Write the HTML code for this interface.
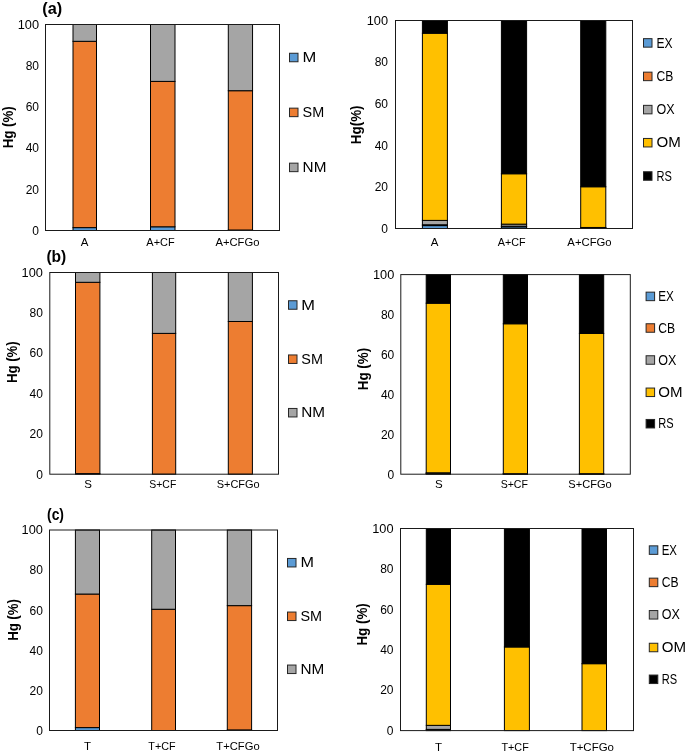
<!DOCTYPE html>
<html><head><meta charset="utf-8"><style>
html,body{margin:0;padding:0;background:#fff;}
body{width:685px;height:755px;overflow:hidden;}
svg{display:block;font-family:"Liberation Sans", sans-serif;filter:blur(0.4px);}
</style></head><body>
<svg width="685" height="755" viewBox="0 0 685 755">
<rect width="685" height="755" fill="#fff"/>
<rect x="73.00" y="227.62" width="23.50" height="2.88" fill="#5B9BD5" stroke="#000000" stroke-width="1"/>
<rect x="73.00" y="41.31" width="23.50" height="186.31" fill="#ED7D31" stroke="#000000" stroke-width="1"/>
<rect x="73.00" y="24.50" width="23.50" height="16.81" fill="#A5A5A5" stroke="#000000" stroke-width="1"/>
<rect x="150.50" y="226.79" width="24.50" height="3.71" fill="#5B9BD5" stroke="#000000" stroke-width="1"/>
<rect x="150.50" y="81.40" width="24.50" height="145.39" fill="#ED7D31" stroke="#000000" stroke-width="1"/>
<rect x="150.50" y="24.50" width="24.50" height="56.90" fill="#A5A5A5" stroke="#000000" stroke-width="1"/>
<rect x="228.30" y="229.99" width="24.25" height="0.51" fill="#5B9BD5" stroke="#000000" stroke-width="1"/>
<rect x="228.30" y="90.71" width="24.25" height="139.28" fill="#ED7D31" stroke="#000000" stroke-width="1"/>
<rect x="228.30" y="24.50" width="24.25" height="66.21" fill="#A5A5A5" stroke="#000000" stroke-width="1"/>
<rect x="45.50" y="24.50" width="234.00" height="206.00" fill="none" stroke="#1a1a1a" stroke-width="1"/>
<text x="39.00" y="234.80" font-size="12" text-anchor="end" fill="#000000">0</text>
<text x="39.00" y="193.60" font-size="12" text-anchor="end" fill="#000000">20</text>
<text x="39.00" y="152.40" font-size="12" text-anchor="end" fill="#000000">40</text>
<text x="39.00" y="111.20" font-size="12" text-anchor="end" fill="#000000">60</text>
<text x="39.00" y="70.00" font-size="12" text-anchor="end" fill="#000000">80</text>
<text x="39.00" y="28.80" font-size="12" text-anchor="end" fill="#000000" textLength="21.30" lengthAdjust="spacingAndGlyphs">100</text>
<text x="84.50" y="246.00" font-size="11.5" text-anchor="middle" fill="#000000">A</text>
<text x="160.50" y="246.00" font-size="11.5" text-anchor="middle" fill="#000000" textLength="28.30" lengthAdjust="spacingAndGlyphs">A+CF</text>
<text x="237.40" y="246.00" font-size="11.5" text-anchor="middle" fill="#000000" textLength="44.00" lengthAdjust="spacingAndGlyphs">A+CFGo</text>
<text x="12.90" y="127.30" font-size="14" text-anchor="middle" fill="#000000" font-weight="bold" textLength="42.00" lengthAdjust="spacingAndGlyphs" transform="rotate(-90 12.90 127.30)">Hg (%)</text>
<rect x="289.50" y="53.25" width="8.5" height="8.5" fill="#5B9BD5" stroke="#262626" stroke-width="1"/>
<text x="302.60" y="62.10" font-size="14.5" text-anchor="start" fill="#000000" textLength="13.80" lengthAdjust="spacingAndGlyphs">M</text>
<rect x="289.50" y="108.15" width="8.5" height="8.5" fill="#ED7D31" stroke="#262626" stroke-width="1"/>
<text x="302.60" y="117.00" font-size="14.5" text-anchor="start" fill="#000000" textLength="21.60" lengthAdjust="spacingAndGlyphs">SM</text>
<rect x="289.50" y="163.15" width="8.5" height="8.5" fill="#A5A5A5" stroke="#262626" stroke-width="1"/>
<text x="302.60" y="172.00" font-size="14.5" text-anchor="start" fill="#000000" textLength="23.80" lengthAdjust="spacingAndGlyphs">NM</text>
<rect x="422.40" y="225.59" width="25.00" height="2.91" fill="#5B9BD5" stroke="#000000" stroke-width="1"/>
<rect x="422.40" y="224.76" width="25.00" height="0.83" fill="#ED7D31" stroke="#000000" stroke-width="1"/>
<rect x="422.40" y="220.39" width="25.00" height="4.37" fill="#A5A5A5" stroke="#000000" stroke-width="1"/>
<rect x="422.40" y="33.21" width="25.00" height="187.18" fill="#FFC000" stroke="#000000" stroke-width="1"/>
<rect x="422.40" y="20.50" width="25.00" height="12.71" fill="#000000" stroke="#000000" stroke-width="1"/>
<rect x="501.40" y="226.84" width="25.20" height="1.66" fill="#5B9BD5" stroke="#000000" stroke-width="1"/>
<rect x="501.40" y="226.21" width="25.20" height="0.62" fill="#ED7D31" stroke="#000000" stroke-width="1"/>
<rect x="501.40" y="224.13" width="25.20" height="2.08" fill="#A5A5A5" stroke="#000000" stroke-width="1"/>
<rect x="501.40" y="173.75" width="25.20" height="50.38" fill="#FFC000" stroke="#000000" stroke-width="1"/>
<rect x="501.40" y="20.50" width="25.20" height="153.25" fill="#000000" stroke="#000000" stroke-width="1"/>
<rect x="580.70" y="228.19" width="25.10" height="0.31" fill="#5B9BD5" stroke="#000000" stroke-width="1"/>
<rect x="580.70" y="227.98" width="25.10" height="0.21" fill="#ED7D31" stroke="#000000" stroke-width="1"/>
<rect x="580.70" y="227.46" width="25.10" height="0.52" fill="#A5A5A5" stroke="#000000" stroke-width="1"/>
<rect x="580.70" y="186.75" width="25.10" height="40.71" fill="#FFC000" stroke="#000000" stroke-width="1"/>
<rect x="580.70" y="20.50" width="25.10" height="166.25" fill="#000000" stroke="#000000" stroke-width="1"/>
<rect x="395.50" y="20.50" width="237.00" height="208.00" fill="none" stroke="#1a1a1a" stroke-width="1"/>
<text x="388.00" y="232.80" font-size="12" text-anchor="end" fill="#000000">0</text>
<text x="388.00" y="191.20" font-size="12" text-anchor="end" fill="#000000">20</text>
<text x="388.00" y="149.60" font-size="12" text-anchor="end" fill="#000000">40</text>
<text x="388.00" y="108.00" font-size="12" text-anchor="end" fill="#000000">60</text>
<text x="388.00" y="66.40" font-size="12" text-anchor="end" fill="#000000">80</text>
<text x="388.00" y="24.80" font-size="12" text-anchor="end" fill="#000000" textLength="21.30" lengthAdjust="spacingAndGlyphs">100</text>
<text x="434.60" y="245.50" font-size="11.5" text-anchor="middle" fill="#000000">A</text>
<text x="511.70" y="245.50" font-size="11.5" text-anchor="middle" fill="#000000" textLength="27.90" lengthAdjust="spacingAndGlyphs">A+CF</text>
<text x="589.50" y="245.50" font-size="11.5" text-anchor="middle" fill="#000000" textLength="44.30" lengthAdjust="spacingAndGlyphs">A+CFGo</text>
<text x="361.10" y="124.80" font-size="14" text-anchor="middle" fill="#000000" font-weight="bold" textLength="38.70" lengthAdjust="spacingAndGlyphs" transform="rotate(-90 361.10 124.80)">Hg(%)</text>
<rect x="643.50" y="38.65" width="8.5" height="8.5" fill="#5B9BD5" stroke="#262626" stroke-width="1"/>
<text x="656.50" y="47.50" font-size="14.5" text-anchor="start" fill="#000000" textLength="16.10" lengthAdjust="spacingAndGlyphs">EX</text>
<rect x="643.50" y="72.15" width="8.5" height="8.5" fill="#ED7D31" stroke="#262626" stroke-width="1"/>
<text x="656.50" y="81.00" font-size="14.5" text-anchor="start" fill="#000000" textLength="16.80" lengthAdjust="spacingAndGlyphs">CB</text>
<rect x="643.50" y="105.35" width="8.5" height="8.5" fill="#A5A5A5" stroke="#262626" stroke-width="1"/>
<text x="656.50" y="114.20" font-size="14.5" text-anchor="start" fill="#000000" textLength="18.10" lengthAdjust="spacingAndGlyphs">OX</text>
<rect x="643.50" y="138.45" width="8.5" height="8.5" fill="#FFC000" stroke="#262626" stroke-width="1"/>
<text x="656.50" y="147.30" font-size="14.5" text-anchor="start" fill="#000000" textLength="24.30" lengthAdjust="spacingAndGlyphs">OM</text>
<rect x="643.50" y="171.75" width="8.5" height="8.5" fill="#000000" stroke="#262626" stroke-width="1"/>
<text x="656.50" y="180.60" font-size="14.5" text-anchor="start" fill="#000000" textLength="15.40" lengthAdjust="spacingAndGlyphs">RS</text>
<rect x="75.50" y="473.59" width="24.40" height="0.61" fill="#5B9BD5" stroke="#000000" stroke-width="1"/>
<rect x="75.50" y="282.30" width="24.40" height="191.29" fill="#ED7D31" stroke="#000000" stroke-width="1"/>
<rect x="75.50" y="272.50" width="24.40" height="9.80" fill="#A5A5A5" stroke="#000000" stroke-width="1"/>
<rect x="152.40" y="333.39" width="23.30" height="140.81" fill="#ED7D31" stroke="#000000" stroke-width="1"/>
<rect x="152.40" y="272.50" width="23.30" height="60.89" fill="#A5A5A5" stroke="#000000" stroke-width="1"/>
<rect x="228.30" y="321.49" width="24.10" height="152.71" fill="#ED7D31" stroke="#000000" stroke-width="1"/>
<rect x="228.30" y="272.50" width="24.10" height="48.99" fill="#A5A5A5" stroke="#000000" stroke-width="1"/>
<rect x="49.80" y="272.50" width="228.70" height="201.70" fill="none" stroke="#1a1a1a" stroke-width="1"/>
<text x="42.90" y="478.50" font-size="12" text-anchor="end" fill="#000000">0</text>
<text x="42.90" y="438.16" font-size="12" text-anchor="end" fill="#000000">20</text>
<text x="42.90" y="397.82" font-size="12" text-anchor="end" fill="#000000">40</text>
<text x="42.90" y="357.48" font-size="12" text-anchor="end" fill="#000000">60</text>
<text x="42.90" y="317.14" font-size="12" text-anchor="end" fill="#000000">80</text>
<text x="42.90" y="276.80" font-size="12" text-anchor="end" fill="#000000" textLength="21.30" lengthAdjust="spacingAndGlyphs">100</text>
<text x="88.10" y="488.30" font-size="11.5" text-anchor="middle" fill="#000000">S</text>
<text x="162.80" y="488.30" font-size="11.5" text-anchor="middle" fill="#000000" textLength="27.00" lengthAdjust="spacingAndGlyphs">S+CF</text>
<text x="238.20" y="488.30" font-size="11.5" text-anchor="middle" fill="#000000" textLength="43.00" lengthAdjust="spacingAndGlyphs">S+CFGo</text>
<text x="17.40" y="362.20" font-size="14" text-anchor="middle" fill="#000000" font-weight="bold" textLength="41.70" lengthAdjust="spacingAndGlyphs" transform="rotate(-90 17.40 362.20)">Hg (%)</text>
<rect x="288.50" y="300.75" width="8.5" height="8.5" fill="#5B9BD5" stroke="#262626" stroke-width="1"/>
<text x="301.30" y="309.60" font-size="14.5" text-anchor="start" fill="#000000" textLength="13.70" lengthAdjust="spacingAndGlyphs">M</text>
<rect x="288.50" y="354.95" width="8.5" height="8.5" fill="#ED7D31" stroke="#262626" stroke-width="1"/>
<text x="301.30" y="363.80" font-size="14.5" text-anchor="start" fill="#000000" textLength="21.60" lengthAdjust="spacingAndGlyphs">SM</text>
<rect x="288.50" y="408.45" width="8.5" height="8.5" fill="#A5A5A5" stroke="#262626" stroke-width="1"/>
<text x="301.30" y="417.30" font-size="14.5" text-anchor="start" fill="#000000" textLength="23.80" lengthAdjust="spacingAndGlyphs">NM</text>
<rect x="426.20" y="473.70" width="24.30" height="0.50" fill="#5B9BD5" stroke="#000000" stroke-width="1"/>
<rect x="426.20" y="473.30" width="24.30" height="0.40" fill="#ED7D31" stroke="#000000" stroke-width="1"/>
<rect x="426.20" y="472.80" width="24.30" height="0.50" fill="#A5A5A5" stroke="#000000" stroke-width="1"/>
<rect x="426.20" y="303.20" width="24.30" height="169.60" fill="#FFC000" stroke="#000000" stroke-width="1"/>
<rect x="426.20" y="274.60" width="24.30" height="28.60" fill="#000000" stroke="#000000" stroke-width="1"/>
<rect x="503.30" y="474.00" width="24.20" height="0.20" fill="#5B9BD5" stroke="#000000" stroke-width="1"/>
<rect x="503.30" y="473.90" width="24.20" height="0.10" fill="#ED7D31" stroke="#000000" stroke-width="1"/>
<rect x="503.30" y="473.70" width="24.20" height="0.20" fill="#A5A5A5" stroke="#000000" stroke-width="1"/>
<rect x="503.30" y="323.76" width="24.20" height="149.94" fill="#FFC000" stroke="#000000" stroke-width="1"/>
<rect x="503.30" y="274.60" width="24.20" height="49.16" fill="#000000" stroke="#000000" stroke-width="1"/>
<rect x="579.40" y="474.00" width="24.30" height="0.20" fill="#5B9BD5" stroke="#000000" stroke-width="1"/>
<rect x="579.40" y="473.90" width="24.30" height="0.10" fill="#ED7D31" stroke="#000000" stroke-width="1"/>
<rect x="579.40" y="473.70" width="24.30" height="0.20" fill="#A5A5A5" stroke="#000000" stroke-width="1"/>
<rect x="579.40" y="333.40" width="24.30" height="140.30" fill="#FFC000" stroke="#000000" stroke-width="1"/>
<rect x="579.40" y="274.60" width="24.30" height="58.80" fill="#000000" stroke="#000000" stroke-width="1"/>
<rect x="400.80" y="274.60" width="229.50" height="199.60" fill="none" stroke="#1a1a1a" stroke-width="1"/>
<text x="394.30" y="478.50" font-size="12" text-anchor="end" fill="#000000">0</text>
<text x="394.30" y="438.58" font-size="12" text-anchor="end" fill="#000000">20</text>
<text x="394.30" y="398.66" font-size="12" text-anchor="end" fill="#000000">40</text>
<text x="394.30" y="358.74" font-size="12" text-anchor="end" fill="#000000">60</text>
<text x="394.30" y="318.82" font-size="12" text-anchor="end" fill="#000000">80</text>
<text x="394.30" y="278.90" font-size="12" text-anchor="end" fill="#000000" textLength="21.30" lengthAdjust="spacingAndGlyphs">100</text>
<text x="438.90" y="488.30" font-size="11.5" text-anchor="middle" fill="#000000">S</text>
<text x="514.30" y="488.30" font-size="11.5" text-anchor="middle" fill="#000000" textLength="27.30" lengthAdjust="spacingAndGlyphs">S+CF</text>
<text x="590.00" y="488.30" font-size="11.5" text-anchor="middle" fill="#000000" textLength="43.40" lengthAdjust="spacingAndGlyphs">S+CFGo</text>
<text x="368.20" y="369.00" font-size="14" text-anchor="middle" fill="#000000" font-weight="bold" textLength="42.40" lengthAdjust="spacingAndGlyphs" transform="rotate(-90 368.20 369.00)">Hg (%)</text>
<rect x="646.10" y="292.15" width="8.5" height="8.5" fill="#5B9BD5" stroke="#262626" stroke-width="1"/>
<text x="658.30" y="301.00" font-size="14.5" text-anchor="start" fill="#000000" textLength="15.60" lengthAdjust="spacingAndGlyphs">EX</text>
<rect x="646.10" y="323.75" width="8.5" height="8.5" fill="#ED7D31" stroke="#262626" stroke-width="1"/>
<text x="658.30" y="332.60" font-size="14.5" text-anchor="start" fill="#000000" textLength="16.80" lengthAdjust="spacingAndGlyphs">CB</text>
<rect x="646.10" y="355.75" width="8.5" height="8.5" fill="#A5A5A5" stroke="#262626" stroke-width="1"/>
<text x="658.30" y="364.60" font-size="14.5" text-anchor="start" fill="#000000" textLength="18.10" lengthAdjust="spacingAndGlyphs">OX</text>
<rect x="646.10" y="388.05" width="8.5" height="8.5" fill="#FFC000" stroke="#262626" stroke-width="1"/>
<text x="658.30" y="396.90" font-size="14.5" text-anchor="start" fill="#000000" textLength="24.30" lengthAdjust="spacingAndGlyphs">OM</text>
<rect x="646.10" y="419.45" width="8.5" height="8.5" fill="#000000" stroke="#262626" stroke-width="1"/>
<text x="658.30" y="428.30" font-size="14.5" text-anchor="start" fill="#000000" textLength="15.40" lengthAdjust="spacingAndGlyphs">RS</text>
<rect x="75.40" y="727.59" width="24.10" height="2.91" fill="#5B9BD5" stroke="#000000" stroke-width="1"/>
<rect x="75.40" y="594.04" width="24.10" height="133.55" fill="#ED7D31" stroke="#000000" stroke-width="1"/>
<rect x="75.40" y="530.00" width="24.10" height="64.04" fill="#A5A5A5" stroke="#000000" stroke-width="1"/>
<rect x="151.70" y="609.26" width="23.80" height="121.24" fill="#ED7D31" stroke="#000000" stroke-width="1"/>
<rect x="151.70" y="530.00" width="23.80" height="79.26" fill="#A5A5A5" stroke="#000000" stroke-width="1"/>
<rect x="227.30" y="729.90" width="24.30" height="0.60" fill="#5B9BD5" stroke="#000000" stroke-width="1"/>
<rect x="227.30" y="605.63" width="24.30" height="124.27" fill="#ED7D31" stroke="#000000" stroke-width="1"/>
<rect x="227.30" y="530.00" width="24.30" height="75.63" fill="#A5A5A5" stroke="#000000" stroke-width="1"/>
<rect x="49.50" y="530.00" width="228.00" height="200.50" fill="none" stroke="#1a1a1a" stroke-width="1"/>
<text x="42.90" y="734.80" font-size="12" text-anchor="end" fill="#000000">0</text>
<text x="42.90" y="694.70" font-size="12" text-anchor="end" fill="#000000">20</text>
<text x="42.90" y="654.60" font-size="12" text-anchor="end" fill="#000000">40</text>
<text x="42.90" y="614.50" font-size="12" text-anchor="end" fill="#000000">60</text>
<text x="42.90" y="574.40" font-size="12" text-anchor="end" fill="#000000">80</text>
<text x="42.90" y="534.30" font-size="12" text-anchor="end" fill="#000000" textLength="21.30" lengthAdjust="spacingAndGlyphs">100</text>
<text x="87.60" y="750.00" font-size="11.5" text-anchor="middle" fill="#000000">T</text>
<text x="162.00" y="750.00" font-size="11.5" text-anchor="middle" fill="#000000" textLength="27.30" lengthAdjust="spacingAndGlyphs">T+CF</text>
<text x="238.00" y="750.00" font-size="11.5" text-anchor="middle" fill="#000000" textLength="43.30" lengthAdjust="spacingAndGlyphs">T+CFGo</text>
<text x="17.70" y="620.00" font-size="14" text-anchor="middle" fill="#000000" font-weight="bold" textLength="41.70" lengthAdjust="spacingAndGlyphs" transform="rotate(-90 17.70 620.00)">Hg (%)</text>
<rect x="287.50" y="558.45" width="8.5" height="8.5" fill="#5B9BD5" stroke="#262626" stroke-width="1"/>
<text x="300.50" y="567.30" font-size="14.5" text-anchor="start" fill="#000000" textLength="13.50" lengthAdjust="spacingAndGlyphs">M</text>
<rect x="287.50" y="612.05" width="8.5" height="8.5" fill="#ED7D31" stroke="#262626" stroke-width="1"/>
<text x="300.50" y="620.90" font-size="14.5" text-anchor="start" fill="#000000" textLength="21.60" lengthAdjust="spacingAndGlyphs">SM</text>
<rect x="287.50" y="665.05" width="8.5" height="8.5" fill="#A5A5A5" stroke="#262626" stroke-width="1"/>
<text x="300.50" y="673.90" font-size="14.5" text-anchor="start" fill="#000000" textLength="23.80" lengthAdjust="spacingAndGlyphs">NM</text>
<rect x="426.30" y="729.99" width="24.20" height="0.61" fill="#5B9BD5" stroke="#000000" stroke-width="1"/>
<rect x="426.30" y="729.39" width="24.20" height="0.61" fill="#ED7D31" stroke="#000000" stroke-width="1"/>
<rect x="426.30" y="725.35" width="24.20" height="4.04" fill="#A5A5A5" stroke="#000000" stroke-width="1"/>
<rect x="426.30" y="584.30" width="24.20" height="141.05" fill="#FFC000" stroke="#000000" stroke-width="1"/>
<rect x="426.30" y="528.50" width="24.20" height="55.80" fill="#000000" stroke="#000000" stroke-width="1"/>
<rect x="504.40" y="646.97" width="25.00" height="83.63" fill="#FFC000" stroke="#000000" stroke-width="1"/>
<rect x="504.40" y="528.50" width="25.00" height="118.47" fill="#000000" stroke="#000000" stroke-width="1"/>
<rect x="582.00" y="663.68" width="24.50" height="66.92" fill="#FFC000" stroke="#000000" stroke-width="1"/>
<rect x="582.00" y="528.50" width="24.50" height="135.18" fill="#000000" stroke="#000000" stroke-width="1"/>
<rect x="400.50" y="528.50" width="233.00" height="202.10" fill="none" stroke="#1a1a1a" stroke-width="1"/>
<text x="393.50" y="734.90" font-size="12" text-anchor="end" fill="#000000">0</text>
<text x="393.50" y="694.48" font-size="12" text-anchor="end" fill="#000000">20</text>
<text x="393.50" y="654.06" font-size="12" text-anchor="end" fill="#000000">40</text>
<text x="393.50" y="613.64" font-size="12" text-anchor="end" fill="#000000">60</text>
<text x="393.50" y="573.22" font-size="12" text-anchor="end" fill="#000000">80</text>
<text x="393.50" y="532.80" font-size="12" text-anchor="end" fill="#000000" textLength="21.30" lengthAdjust="spacingAndGlyphs">100</text>
<text x="438.60" y="750.50" font-size="11.5" text-anchor="middle" fill="#000000">T</text>
<text x="515.10" y="750.50" font-size="11.5" text-anchor="middle" fill="#000000" textLength="27.30" lengthAdjust="spacingAndGlyphs">T+CF</text>
<text x="591.80" y="750.50" font-size="11.5" text-anchor="middle" fill="#000000" textLength="44.30" lengthAdjust="spacingAndGlyphs">T+CFGo</text>
<text x="367.20" y="624.40" font-size="14" text-anchor="middle" fill="#000000" font-weight="bold" textLength="42.40" lengthAdjust="spacingAndGlyphs" transform="rotate(-90 367.20 624.40)">Hg (%)</text>
<rect x="649.30" y="545.85" width="8.5" height="8.5" fill="#5B9BD5" stroke="#262626" stroke-width="1"/>
<text x="661.70" y="554.70" font-size="14.5" text-anchor="start" fill="#000000" textLength="15.30" lengthAdjust="spacingAndGlyphs">EX</text>
<rect x="649.30" y="578.15" width="8.5" height="8.5" fill="#ED7D31" stroke="#262626" stroke-width="1"/>
<text x="661.70" y="587.00" font-size="14.5" text-anchor="start" fill="#000000" textLength="16.80" lengthAdjust="spacingAndGlyphs">CB</text>
<rect x="649.30" y="610.55" width="8.5" height="8.5" fill="#A5A5A5" stroke="#262626" stroke-width="1"/>
<text x="661.70" y="619.40" font-size="14.5" text-anchor="start" fill="#000000" textLength="18.10" lengthAdjust="spacingAndGlyphs">OX</text>
<rect x="649.30" y="643.25" width="8.5" height="8.5" fill="#FFC000" stroke="#262626" stroke-width="1"/>
<text x="661.70" y="652.10" font-size="14.5" text-anchor="start" fill="#000000" textLength="24.30" lengthAdjust="spacingAndGlyphs">OM</text>
<rect x="649.30" y="675.05" width="8.5" height="8.5" fill="#000000" stroke="#262626" stroke-width="1"/>
<text x="661.70" y="683.90" font-size="14.5" text-anchor="start" fill="#000000" textLength="15.40" lengthAdjust="spacingAndGlyphs">RS</text>
<text x="42.30" y="14.20" font-size="16" text-anchor="start" fill="#000000" font-weight="bold" textLength="19.90" lengthAdjust="spacingAndGlyphs">(a)</text>
<text x="46.40" y="262.40" font-size="16" text-anchor="start" fill="#000000" font-weight="bold" textLength="19.90" lengthAdjust="spacingAndGlyphs">(b)</text>
<text x="47.00" y="520.30" font-size="16" text-anchor="start" fill="#000000" font-weight="bold" textLength="17.00" lengthAdjust="spacingAndGlyphs">(c)</text>
</svg>
</body></html>
